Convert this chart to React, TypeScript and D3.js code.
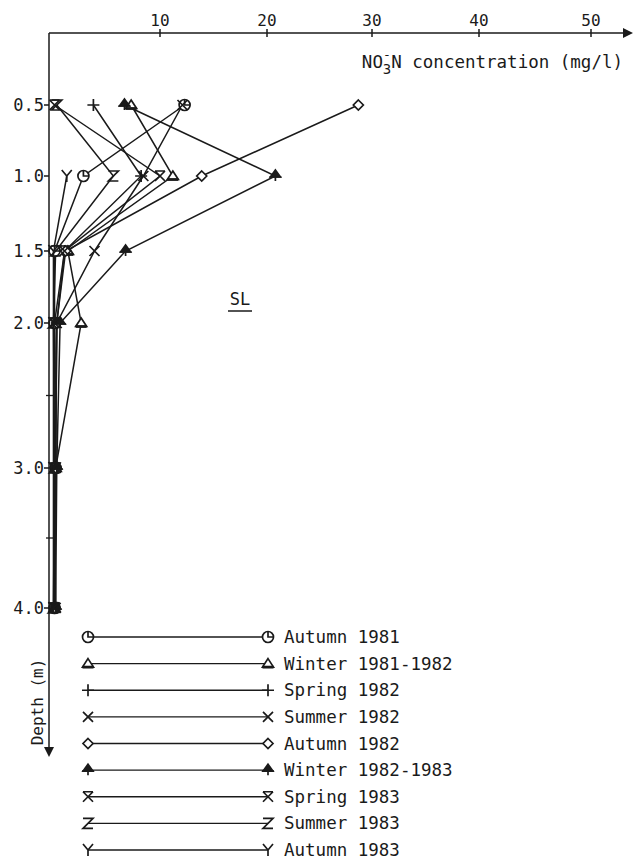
import React, { useRef, useEffect } from 'react';
import * as d3 from 'd3';

// depths (m) sampled in the soil profile
const depths = [0.5, 1.0, 1.5, 2.0, 3.0, 4.0];

// NO3-N (mg/l) per season, one value per depth (null = not sampled)
const autumn1981 = [12.3, 3.1, 0.5, 0.5, 0.6, 0.5];
const winter1981 = [7.4, 11.2, 1.7, 2.9, 0.6, 0.5];
const spring1982 = [4.0, 8.3, 1.4, 0.7, 0.6, 0.5];
const summer1982 = [12.1, 8.5, 4.1, 0.7, 0.5, 0.6];
const autumn1982 = [28.7, 13.9, 1.5, 0.7, 0.6, 0.5];
const winter1982 = [6.8, 20.8, 6.9, 1.0, 0.7, 0.6];
const spring1983 = [0.5, 10.0, 1.4, 0.5, 0.6, 0.5];
const summer1983 = [0.7, 5.8, 0.6, 0.4, 0.5, 0.4];
const autumn1983 = [null, 1.6, 0.4, 0.4, 0.4, 0.4];

const seriesNames = [
  'Autumn 1981', 'Winter 1981-1982', 'Spring 1982', 'Summer 1982', 'Autumn 1982',
  'Winter 1982-1983', 'Spring 1983', 'Summer 1983', 'Autumn 1983',
];
const seriesValues = [
  autumn1981, winter1981, spring1982, summer1982, autumn1982,
  winter1982, spring1983, summer1983, autumn1983,
];
const symbols = ['clock', 'triangle', 'plus', 'cross', 'diamond', 'spade', 'xbar', 'zed', 'wye'];

const xTicks = [10, 20, 30, 40, 50];
const yTicks = [0.5, 1.0, 1.5, 2.0, 3.0, 4.0];
const yMinorTicks = [2.5, 3.5];

const FONT = '"DejaVu Sans Mono", "Liberation Mono", monospace';

// marker glyphs, drawn around (0,0)
function drawSymbol(g, kind) {
  const ink = '#1a1a1a';
  const path = (d, fill = 'none') => g.append('path').attr('d', d)
    .attr('fill', fill).attr('stroke', ink).attr('stroke-width', 1.7);
  if (kind === 'clock') {
    g.append('circle').attr('r', 5.5).attr('fill', 'white').attr('stroke', ink).attr('stroke-width', 1.7);
    path('M0,-5.5 V0 H5.5');
  } else if (kind === 'triangle') {
    path('M0,-5 L5.5,3.5 L-5.5,3.5 Z', 'white');
    path('M-5.5,3.5 H5.5').attr('stroke-width', 2.8);
  } else if (kind === 'plus') {
    path('M-6,0 H6 M0,-6 V6');
  } else if (kind === 'cross') {
    path('M-5,-5 L5,5 M5,-5 L-5,5');
  } else if (kind === 'diamond') {
    path('M0,-5 L5,0 L0,5 L-5,0 Z', 'white');
  } else if (kind === 'spade') {
    path('M0,-6 L5,1 L-5,1 Z', ink);
    path('M-6,1 H6 M0,1 V5');
  } else if (kind === 'xbar') {
    path('M-5,-5 H5 M-5,-5 L5,5 M5,-5 L-5,5');
  } else if (kind === 'zed') {
    path('M-5,-5 H5 L-5,5 H5');
  } else if (kind === 'wye') {
    path('M-5,-6 L0,0 L5,-6 M0,0 V6');
  }
}

const ProfileChart = ({ width, height }) => {
  const ref = useRef(null);

  useEffect(() => {
    const svg = d3.select(ref.current)
      .attr('width', width)
      .attr('height', height)
      .style('background-color', 'white');

    svg.selectAll('*').remove();

    const ink = '#1a1a1a';

    // hand drawn axes: slightly uneven spacing in the original
    const xScale = d3.scaleLinear().domain([0, 10, 20, 30, 40, 50]).range([49, 160, 267, 372, 479, 591]);
    const yScale = d3.scaleLinear().domain([0, 0.5, 1, 1.5, 2, 3, 4]).range([33, 105, 176, 251, 323, 468, 608]);

    const x0 = xScale(0);
    const y0 = yScale(0);
    const xEnd = 633;
    const yEnd = 757;

    const axes = svg.append('g');

    // x axis with arrow
    axes.append('line').attr('x1', x0).attr('x2', xEnd - 8).attr('y1', y0).attr('y2', y0)
      .attr('stroke', ink).attr('stroke-width', 1.5);
    axes.append('path').attr('d', `M${xEnd},${y0} L${xEnd - 10},${y0 - 5} L${xEnd - 10},${y0 + 5} Z`).attr('fill', ink);
    axes.selectAll('.xtick').data(xTicks).enter().append('line')
      .attr('x1', d => xScale(d)).attr('x2', d => xScale(d))
      .attr('y1', y0 - 4).attr('y2', y0 + 4)
      .attr('stroke', ink).attr('stroke-width', 1.5);
    axes.selectAll('.xlab').data(xTicks).enter().append('text')
      .attr('x', d => xScale(d)).attr('y', y0 - 7)
      .attr('text-anchor', 'middle')
      .style('font-family', FONT).style('font-size', '16px').attr('fill', ink)
      .text(d => d);

    // x label: NO3-N with the minus stacked over the subscript 3
    const xl = axes.append('text')
      .attr('x', 623).attr('y', 68).attr('text-anchor', 'end')
      .style('font-family', FONT).style('font-size', '17.5px').attr('fill', ink);
    xl.append('tspan').text('NO');
    xl.append('tspan').attr('dy', -9).style('font-size', '13px').text('-');
    xl.append('tspan').attr('dx', -8).attr('dy', 15).style('font-size', '14px').text('3');
    xl.append('tspan').attr('dy', -6).text('N concentration (mg/l)');

    // y axis with arrow
    axes.append('line').attr('x1', x0).attr('x2', x0).attr('y1', y0).attr('y2', yEnd - 8)
      .attr('stroke', ink).attr('stroke-width', 1.5);
    axes.append('path').attr('d', `M${x0},${yEnd} L${x0 - 5},${yEnd - 10} L${x0 + 5},${yEnd - 10} Z`).attr('fill', ink);
    axes.selectAll('.ytick').data(yTicks).enter().append('line')
      .attr('x1', x0 - 5).attr('x2', x0)
      .attr('y1', d => yScale(d)).attr('y2', d => yScale(d))
      .attr('stroke', ink).attr('stroke-width', 1.5);
    axes.selectAll('.yminor').data(yMinorTicks).enter().append('line')
      .attr('x1', x0 - 3).attr('x2', x0 + 4)
      .attr('y1', d => yScale(d)).attr('y2', d => yScale(d))
      .attr('stroke', ink).attr('stroke-width', 1.3);
    axes.selectAll('.ylab').data(yTicks).enter().append('text')
      .attr('x', x0 - 5).attr('y', d => yScale(d) + 6)
      .attr('text-anchor', 'end')
      .style('font-family', FONT).style('font-size', '17px').attr('fill', ink)
      .text(d => d.toFixed(1));

    // y label
    axes.append('g').attr('transform', `translate(43, 702)`).append('text')
      .attr('transform', 'rotate(-90)')
      .attr('text-anchor', 'middle')
      .style('font-family', FONT).style('font-size', '16px').attr('fill', ink)
      .text('Depth (m)');

    // soil type label
    axes.append('text').attr('x', 240).attr('y', 305).attr('text-anchor', 'middle')
      .style('font-family', FONT).style('font-size', '17px').attr('fill', ink).text('SL');
    axes.append('line').attr('x1', 228).attr('x2', 252).attr('y1', 311).attr('y2', 311)
      .attr('stroke', ink).attr('stroke-width', 1.5);

    // profiles
    const line = d3.line()
      .defined(d => d[1] != null)
      .x(d => xScale(d[1]))
      .y(d => yScale(d[0]))
      .curve(d3.curveLinear);

    const plot = svg.append('g');
    seriesValues.forEach((vals) => {
      const pts = depths.map((dep, i) => [dep, vals[i]]);
      plot.append('path')
        .datum(pts)
        .attr('d', line)
        .attr('fill', 'none')
        .attr('stroke', ink)
        .attr('stroke-width', 1.5);
    });
    seriesValues.forEach((vals, s) => {
      depths.forEach((dep, i) => {
        if (vals[i] == null) return;
        const g = plot.append('g').attr('transform', `translate(${xScale(vals[i])}, ${yScale(dep)})`);
        drawSymbol(g, symbols[s]);
      });
    });

    // legend
    const legend = svg.append('g');
    const legendY = d3.scaleLinear().domain([0, 8]).range([637, 850]);
    seriesNames.forEach((name, s) => {
      const ly = legendY(s);
      legend.append('line').attr('x1', 88).attr('x2', 268).attr('y1', ly).attr('y2', ly)
        .attr('stroke', ink).attr('stroke-width', 1.4);
      drawSymbol(legend.append('g').attr('transform', `translate(88, ${ly})`), symbols[s]);
      drawSymbol(legend.append('g').attr('transform', `translate(268, ${ly})`), symbols[s]);
      legend.append('text').attr('x', 284).attr('y', ly + 6)
        .style('font-family', FONT).style('font-size', '17.5px').attr('fill', ink)
        .text(name);
    });
  }, [width, height]);

  return (
    <svg ref={ref} style={{ position: 'absolute', left: 0, top: 0, display: 'block' }}></svg>
  );
};

export default function App() {
  return <ProfileChart width={635} height={861} />;
}
